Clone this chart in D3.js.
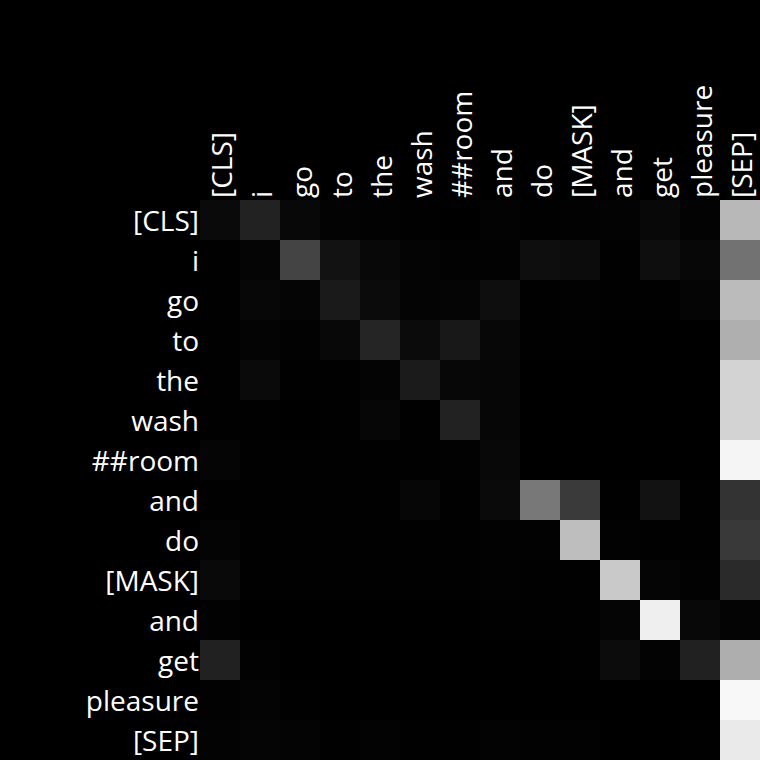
<!DOCTYPE html>
<html><head><meta charset="utf-8">
<script src="https://cdn.jsdelivr.net/npm/d3@7"></script>
<style>html,body{margin:0;padding:0;background:#000;}svg{display:block;}</style>
</head><body>
<script>
const tokens = ["[CLS]","i","go","to","the","wash","##room","and","do","[MASK]","and","get","pleasure","[SEP]"];
// attention weights (row = query token, column = key token)
const row0  = [0.039,0.133,0.031,0.012,0.008,0.004,0.000,0.012,0.004,0.008,0.012,0.031,0.012,0.722];
const row1  = [0.004,0.020,0.267,0.071,0.031,0.016,0.008,0.008,0.055,0.047,0.004,0.055,0.027,0.447];
const row2  = [0.004,0.027,0.020,0.102,0.043,0.016,0.020,0.055,0.004,0.008,0.004,0.004,0.020,0.733];
const row3  = [0.004,0.016,0.008,0.031,0.145,0.043,0.094,0.027,0.004,0.004,0.000,0.000,0.000,0.686];
const row4  = [0.004,0.039,0.004,0.004,0.016,0.106,0.027,0.024,0.000,0.000,0.000,0.000,0.000,0.827];
const row5  = [0.004,0.004,0.000,0.004,0.024,0.004,0.133,0.024,0.000,0.000,0.000,0.000,0.000,0.827];
const row6  = [0.020,0.004,0.004,0.004,0.004,0.004,0.008,0.031,0.000,0.000,0.000,0.000,0.000,0.961];
const row7  = [0.004,0.004,0.004,0.004,0.004,0.024,0.004,0.039,0.471,0.227,0.004,0.071,0.004,0.200];
const row8  = [0.016,0.004,0.004,0.004,0.004,0.004,0.004,0.008,0.008,0.745,0.008,0.004,0.004,0.224];
const row9  = [0.035,0.004,0.004,0.004,0.004,0.004,0.004,0.008,0.004,0.004,0.788,0.020,0.008,0.165];
const row10 = [0.008,0.000,0.000,0.000,0.000,0.000,0.000,0.004,0.004,0.004,0.020,0.937,0.031,0.016];
const row11 = [0.129,0.008,0.000,0.000,0.000,0.000,0.000,0.000,0.000,0.004,0.047,0.012,0.129,0.682];
const row12 = [0.008,0.016,0.004,0.000,0.000,0.000,0.000,0.000,0.000,0.000,0.000,0.000,0.000,0.973];
const row13 = [0.012,0.020,0.016,0.004,0.012,0.004,0.004,0.012,0.008,0.008,0.000,0.000,0.004,0.918];
const weights = [row0,row1,row2,row3,row4,row5,row6,row7,row8,row9,row10,row11,row12,row13];

const W = 760, H = 760;
const mLeft = 200, mTop = 200, mRight = 760, mBottom = 760;
const svg = d3.select("body").append("svg").attr("width", W).attr("height", H)
  .style("background", "#000");
svg.append("rect").attr("width", W).attr("height", H).attr("fill", "#000");

const idx = d3.range(tokens.length);
const x = d3.scaleBand().domain(idx).range([mLeft, mRight]);
const y = d3.scaleBand().domain(idx).range([mTop, mBottom]);
const color = d3.scaleLinear().domain([0, 1]).range(["#000000", "#ffffff"]).clamp(true);

const cells = [];
weights.forEach((r, i) => r.forEach((v, j) => cells.push({i, j, v})));
svg.append("g").selectAll("rect").data(cells).join("rect")
  .attr("x", d => x(d.j)).attr("y", d => y(d.i))
  .attr("width", x.bandwidth()).attr("height", y.bandwidth())
  .attr("fill", d => color(d.v));

const font = "'Open Sans', sans-serif";
const fs = 28;
// row labels
svg.append("g").selectAll("text").data(idx).join("text")
  .attr("x", mLeft - 1).attr("y", d => y(d) + y.bandwidth() / 2)
  .attr("text-anchor", "end").attr("dominant-baseline", "central")
  .attr("font-family", font).attr("font-size", fs).attr("fill", "#fff")
  .text(d => tokens[d]);
// column labels
svg.append("g").selectAll("text").data(idx).join("text")
  .attr("transform", d => `translate(${x(d) + x.bandwidth() / 2 + 1},${mTop - 2}) rotate(-90)`)
  .attr("text-anchor", "start").attr("dominant-baseline", "central")
  .attr("font-family", font).attr("font-size", fs).attr("fill", "#fff")
  .text(d => tokens[d]);
</script>
</body></html>
